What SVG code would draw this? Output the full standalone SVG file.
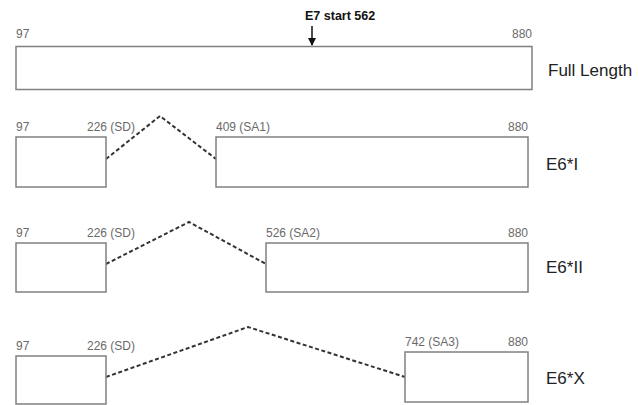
<svg xmlns="http://www.w3.org/2000/svg" width="639" height="405" viewBox="0 0 639 405">
<style>
.box{fill:#fff;stroke:#808080;stroke-width:1.5}
.lbl{font-family:"Liberation Sans",Arial,sans-serif;font-size:12px;fill:#6a6a6a}
.name{font-family:"Liberation Sans",Arial,sans-serif;font-size:17px;fill:#222}
.dash{fill:none;stroke:#333;stroke-width:2;stroke-dasharray:4 2.5}
</style>
<defs>
<marker id="ah" markerWidth="8" markerHeight="8" refX="7" refY="4" orient="auto" markerUnits="userSpaceOnUse">
<path d="M0,0 L8,4 L0,8 Z" fill="#111"/>
</marker>
</defs>
<rect width="639" height="405" fill="#fff"/>
<g id="connectors">
<polyline class="dash" points="106,159 160,116 216,159"/>
<polyline class="dash" points="106,264 189,222 266,264"/>
<polyline class="dash" points="106,377 248,327 405,377"/>
<line x1="312" y1="26" x2="312" y2="45" stroke="#111" stroke-width="1.5" marker-end="url(#ah)"/>
</g>
<g id="full-length">
<rect class="box" x="16" y="46.5" width="516" height="43"/>
<text class="lbl" x="16" y="38">97</text>
<text class="lbl" x="532" y="38" text-anchor="end">880</text>
<text x="305" y="20" font-family="'Liberation Sans',Arial,sans-serif" font-size="12.5" font-weight="bold" fill="#111">E7 start 562</text>
<text class="name" x="548" y="76">Full Length</text>
</g>
<g id="e6-i">
<rect class="box" x="16" y="137" width="90" height="50"/>
<rect class="box" x="216" y="137" width="312" height="50"/>
<text class="lbl" x="16" y="131">97</text>
<text class="lbl" x="87" y="131">226 (SD)</text>
<text class="lbl" x="216" y="131">409 (SA1)</text>
<text class="lbl" x="528" y="131" text-anchor="end">880</text>
<text class="name" x="546" y="170">E6*I</text>
</g>
<g id="e6-ii">
<rect class="box" x="16" y="243" width="90" height="49"/>
<rect class="box" x="266" y="243" width="262" height="49"/>
<text class="lbl" x="16" y="237">97</text>
<text class="lbl" x="87" y="237">226 (SD)</text>
<text class="lbl" x="266" y="237">526 (SA2)</text>
<text class="lbl" x="528" y="237" text-anchor="end">880</text>
<text class="name" x="546" y="273">E6*II</text>
</g>
<g id="e6-x">
<rect class="box" x="16" y="356" width="90" height="48"/>
<rect class="box" x="405" y="352" width="123" height="50"/>
<text class="lbl" x="16" y="350">97</text>
<text class="lbl" x="87" y="350">226 (SD)</text>
<text class="lbl" x="405" y="346">742 (SA3)</text>
<text class="lbl" x="528" y="346" text-anchor="end">880</text>
<text class="name" x="546" y="384">E6*X</text>
</g>
</svg>
